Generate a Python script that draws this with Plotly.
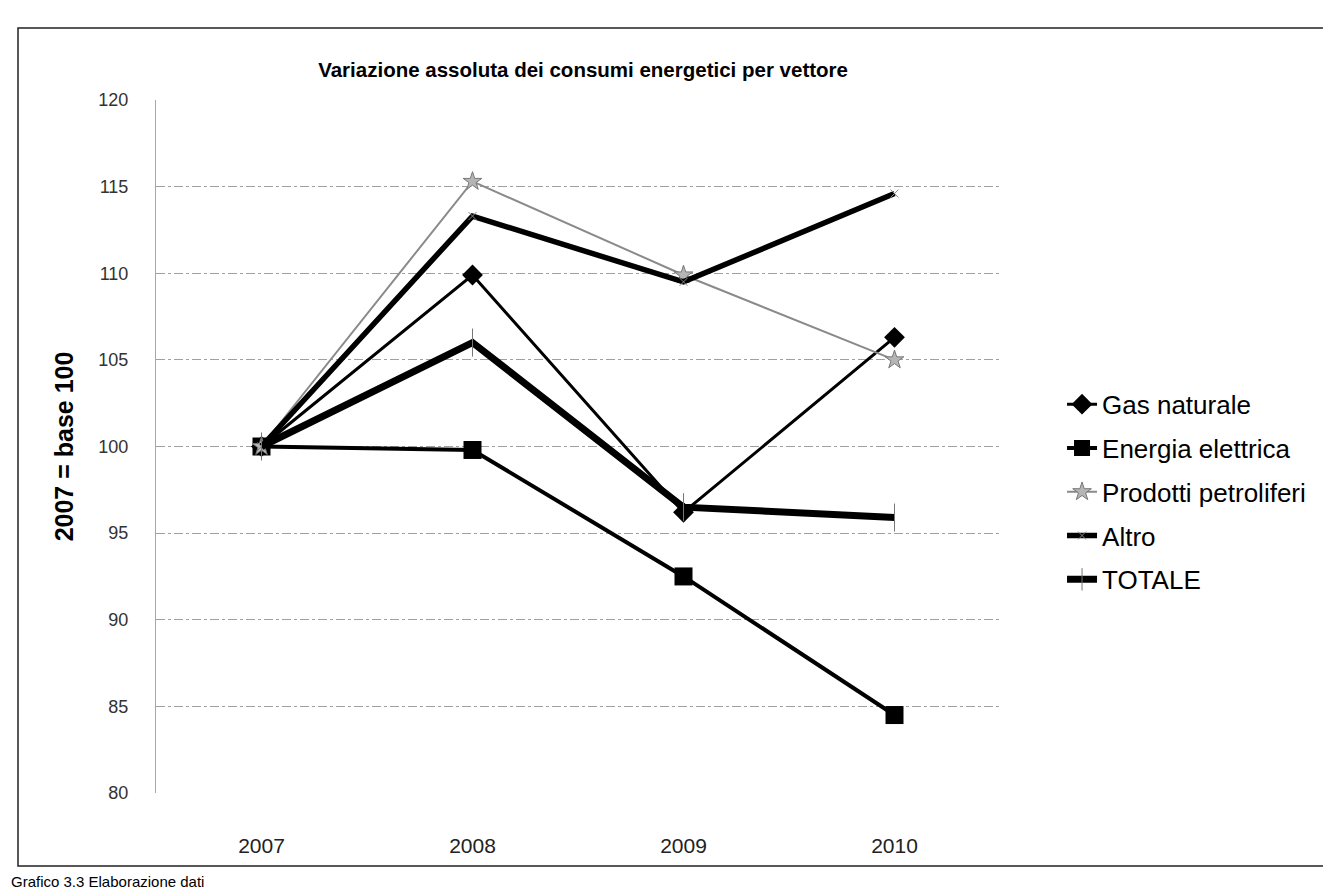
"""Variazione assoluta dei consumi energetici per vettore (2007 = base 100)."""

import plotly.graph_objects as go

years = ["2007", "2008", "2009", "2010"]

gas_naturale = [100, 109.9, 96.2, 106.3]
energia_elettrica = [100, 99.8, 92.5, 84.5]
prodotti_petroliferi = [100, 115.3, 109.9, 105.0]
altro = [100, 113.3, 109.5, 114.6]
totale = [100, 106.0, 96.5, 95.9]

y_ticks = [80, 85, 90, 95, 100, 105, 110, 115, 120]

FONT = "Liberation Sans, Arial, sans-serif"

fig = go.Figure()

fig.add_trace(go.Scatter(
    x=years, y=gas_naturale, name="Gas naturale", legendgroup="g1",
    mode="lines+markers",
    line=dict(color="black", width=3),
    marker=dict(symbol="diamond", size=16, color="black"),
))
fig.add_trace(go.Scatter(
    x=years, y=energia_elettrica, name="Energia elettrica", legendgroup="g2",
    mode="lines+markers",
    line=dict(color="black", width=4),
    marker=dict(symbol="square", size=18, color="black"),
))
fig.add_trace(go.Scatter(
    x=years, y=prodotti_petroliferi, name="Prodotti petroliferi", legendgroup="g3",
    mode="lines+markers",
    line=dict(color="#8a8a8a", width=2),
    marker=dict(symbol="star", size=14, color="#b5b5b5",
                line=dict(color="#777777", width=1)),
))
fig.add_trace(go.Scatter(
    x=years, y=altro, name="Altro", legendgroup="g4",
    mode="lines+markers",
    line=dict(color="black", width=5.5),
    marker=dict(symbol="x-thin", size=8, color="#888888",
                line=dict(color="#888888", width=1)),
))
fig.add_trace(go.Scatter(
    x=years, y=totale, name="TOTALE", legendgroup="g5",
    mode="lines+markers",
    line=dict(color="black", width=7),
    marker=dict(symbol="line-ns", size=20, color="#777777",
                line=dict(color="#777777", width=1)),
))

# outer frame of the scanned chart
fig.add_shape(type="rect", xref="paper", yref="paper",
              x0=-0.1635, x1=1.3886, y0=-0.1053, y1=1.1039,
              line=dict(color="#222222", width=1.5))

fig.add_annotation(
    text="Grafico 3.3 Elaborazione dati", xref="paper", yref="paper",
    x=-0.1742, y=-0.113, xanchor="left", yanchor="top", showarrow=False,
    font=dict(family=FONT, size=15, color="black"),
)

fig.update_layout(
    width=1331,
    height=891,
    margin=dict(l=148, r=339, t=92, b=106),
    paper_bgcolor="white",
    plot_bgcolor="white",
    font=dict(family=FONT, color="black"),
    title=dict(
        text="<b>Variazione assoluta dei consumi energetici per vettore</b>",
        x=0.506, xref="paper", y=0.9304, yref="container",
        xanchor="center", yanchor="middle",
        font=dict(family=FONT, size=20.5, color="black"),
    ),
    showlegend=True,
    legend=dict(
        x=1.0735, y=0.434, xanchor="left", yanchor="middle",
        font=dict(family=FONT, size=26, color="black"),
        tracegroupgap=7,
        bgcolor="rgba(0,0,0,0)",
    ),
    xaxis=dict(
        type="category",
        range=[-0.5, 3.5],
        showgrid=False,
        zeroline=False,
        showline=False,
        ticks="",
        ticklabelstandoff=38,
        tickfont=dict(family=FONT, size=21, color="#222222"),
    ),
    yaxis=dict(
        range=[80, 120],
        tickvals=y_ticks,
        showgrid=True,
        gridcolor="#a0a0a0",
        griddash="dashdot",
        gridwidth=1,
        zeroline=False,
        showline=True,
        linecolor="#a8a8a8",
        linewidth=1,
        ticks="",
        ticklabelstandoff=23,
        tickfont=dict(family=FONT, size=18, color="#333333"),
        title=dict(text="<b>2007 = base 100</b>", standoff=17,
                   font=dict(family=FONT, size=25, color="black")),
    ),
)

fig.write_html("out.html")
